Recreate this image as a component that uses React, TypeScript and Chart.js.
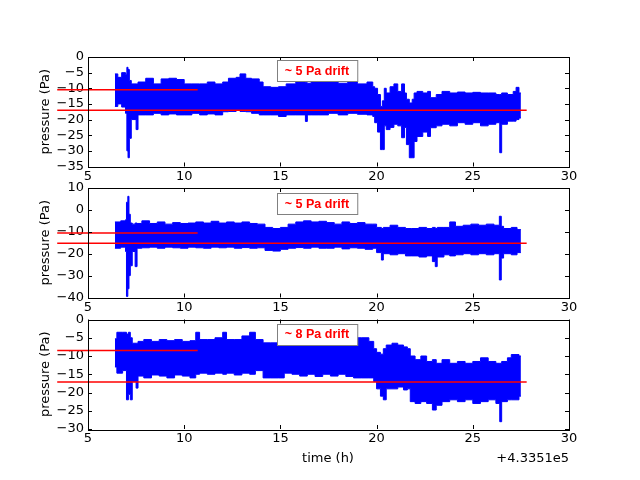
import { useEffect, useRef } from "react";
import { Chart, registerables, Plugin } from "chart.js";

Chart.register(...registerables);

// time in hours (offset +4.3351e5), pressure envelopes in Pa
const topTime = [6.4, 6.55, 6.75, 6.95, 7.02, 7.08, 7.15, 7.25, 7.5, 7.6, 8.0, 8.4, 8.8, 9.2, 9.6, 10.0, 10.4, 10.8, 11.2, 11.6, 12.0, 12.3, 12.7, 12.9, 13.2, 13.5, 13.9, 14.1, 14.5, 14.9, 15.3, 15.8, 16.3, 16.4, 16.6, 17.0, 17.5, 18.0, 18.5, 19.0, 19.5, 19.8, 19.9, 20.05, 20.2, 20.3, 20.4, 20.5, 20.7, 20.9, 21.1, 21.3, 21.45, 21.55, 21.7, 21.85, 21.95, 22.1, 22.4, 22.65, 22.8, 23.1, 23.4, 23.8, 24.2, 24.6, 25.0, 25.4, 25.8, 26.2, 26.4, 26.5, 26.8, 27.1, 27.25, 27.4, 27.5];
const topHigh = [-5.4, -6.5, -5.0, -5.5, -3.3, -4.0, -7.5, -8.6, -8.6, -8.0, -6.8, -8.6, -7.0, -6.8, -7.2, -8.6, -8.6, -8.6, -8.0, -8.6, -8.0, -6.8, -6.5, -5.4, -6.8, -7.0, -8.0, -9.5, -9.7, -9.5, -8.6, -8.0, -8.2, -8.4, -8.0, -7.5, -8.0, -8.4, -8.0, -8.6, -8.0, -9.5, -10.0, -12.0, -15.8, -14.0, -10.0, -11.5, -9.5, -8.6, -11.0, -8.6, -11.5, -13.5, -14.7, -13.5, -11.5, -11.0, -11.5, -11.0, -13.0, -12.0, -11.0, -11.5, -11.2, -11.5, -11.3, -11.5, -11.5, -12.0, -12.0, -11.5, -12.0, -11.0, -9.7, -11.5, -11.5];
const topLow = [-15.8, -15.0, -16.0, -18.0, -30.0, -32.2, -26.0, -20.0, -23.2, -18.5, -18.5, -18.0, -18.5, -18.2, -18.5, -18.5, -18.0, -18.5, -18.2, -18.5, -17.5, -17.4, -17.0, -17.4, -17.5, -18.0, -18.5, -18.5, -18.5, -19.0, -18.5, -18.5, -20.6, -18.5, -18.5, -18.5, -18.0, -18.5, -18.0, -18.3, -18.5, -19.0, -21.0, -24.0, -29.6, -29.6, -22.0, -23.2, -22.5, -21.5, -22.0, -25.8, -22.5, -28.0, -32.2, -32.2, -27.0, -25.4, -24.0, -25.4, -22.6, -22.0, -21.5, -22.0, -21.0, -21.5, -21.0, -22.0, -21.5, -21.0, -30.6, -21.5, -20.5, -20.5, -20.0, -19.5, -19.5];

const midTime = [6.4, 6.7, 6.95, 7.0, 7.07, 7.13, 7.2, 7.3, 7.45, 7.55, 7.8, 8.2, 8.6, 9.0, 9.4, 9.8, 10.2, 10.6, 11.0, 11.4, 11.8, 12.2, 12.6, 13.0, 13.4, 13.8, 14.2, 14.6, 15.0, 15.4, 15.8, 16.2, 16.6, 17.0, 17.4, 17.8, 18.2, 18.6, 19.0, 19.4, 19.8, 20.0, 20.25, 20.35, 20.7, 21.1, 21.5, 21.8, 22.2, 22.6, 22.9, 23.05, 23.15, 23.5, 23.8, 24.1, 24.5, 24.9, 25.3, 25.7, 26.1, 26.38, 26.48, 26.6, 27.0, 27.3, 27.5];
const midHigh = [-5.5, -5.0, -4.5, 3.5, 6.2, -2.0, -6.0, -6.5, -6.0, -6.2, -5.0, -6.2, -5.5, -6.5, -5.8, -6.2, -6.0, -5.5, -6.0, -5.2, -6.0, -5.5, -6.0, -5.5, -6.2, -6.5, -8.0, -8.5, -8.0, -6.5, -5.5, -5.0, -5.5, -5.2, -5.8, -6.5, -5.5, -6.2, -5.8, -6.5, -6.5, -8.0, -8.5, -8.0, -7.0, -8.0, -8.5, -8.5, -8.0, -8.5, -8.0, -8.5, -8.0, -8.0, -5.5, -7.5, -7.0, -6.5, -7.0, -6.5, -7.0, -2.9, -7.5, -8.5, -8.0, -9.0, -9.0];
const midLow = [-17.5, -17.0, -19.0, -39.5, -36.0, -30.0, -25.5, -19.0, -25.9, -17.5, -17.3, -17.0, -17.5, -17.0, -17.3, -17.5, -17.0, -17.3, -17.5, -17.0, -17.3, -17.0, -17.5, -17.2, -17.5, -17.3, -18.5, -18.8, -18.0, -17.5, -17.2, -17.5, -17.0, -17.5, -17.5, -17.0, -17.8, -17.3, -17.5, -18.0, -17.5, -19.5, -22.9, -20.0, -20.5, -20.0, -21.0, -21.0, -21.5, -21.0, -23.6, -25.9, -21.5, -20.5, -21.0, -20.5, -20.0, -20.5, -20.0, -20.5, -20.0, -32.0, -22.0, -20.0, -20.5, -19.5, -19.5];

const lowTime = [6.4, 6.5, 6.8, 7.0, 7.1, 7.2, 7.3, 7.5, 7.6, 7.9, 8.3, 8.7, 9.1, 9.5, 9.9, 10.3, 10.6, 10.8, 11.2, 11.6, 12.0, 12.2, 12.6, 13.0, 13.4, 13.7, 14.1, 14.5, 14.9, 15.2, 15.6, 16.0, 16.4, 16.8, 17.2, 17.6, 18.0, 18.4, 18.8, 19.2, 19.6, 19.85, 20.0, 20.2, 20.35, 20.5, 20.8, 21.1, 21.4, 21.6, 21.75, 22.0, 22.3, 22.6, 22.9, 23.1, 23.4, 23.8, 24.2, 24.6, 25.0, 25.4, 25.8, 26.2, 26.4, 26.5, 26.8, 27.0, 27.4, 27.5];
const lowHigh = [-5.3, -3.5, -3.5, -4.0, -3.5, -5.0, -6.5, -6.5, -6.0, -5.5, -6.0, -5.5, -5.8, -5.5, -6.0, -5.8, -3.5, -5.5, -5.5, -5.0, -3.5, -5.5, -5.5, -4.5, -3.5, -5.5, -6.4, -6.4, -6.0, -5.5, -5.5, -5.0, -5.5, -5.0, -5.5, -5.5, -5.0, -5.5, -5.0, -5.0, -6.0, -8.0, -9.0, -9.5, -8.0, -7.0, -6.5, -7.0, -7.5, -8.0, -10.0, -11.0, -10.0, -11.5, -11.0, -12.0, -11.0, -12.0, -11.5, -12.0, -11.5, -10.5, -11.5, -12.0, -12.0, -11.5, -10.5, -9.6, -10.0, -10.0];
const lowLow = [-13.0, -14.7, -14.0, -22.0, -20.5, -22.0, -17.0, -18.8, -15.5, -16.0, -15.2, -15.5, -16.0, -15.2, -15.5, -16.0, -15.0, -14.7, -15.0, -14.7, -15.0, -14.7, -15.2, -14.7, -15.0, -14.0, -16.0, -16.0, -16.0, -14.7, -15.0, -15.5, -15.0, -15.6, -15.0, -15.5, -15.0, -15.6, -16.0, -16.0, -16.0, -17.0, -19.0, -21.0, -22.0, -19.0, -19.0, -18.5, -19.3, -19.0, -22.5, -23.0, -22.5, -23.0, -24.8, -23.5, -22.5, -22.0, -22.5, -22.0, -23.0, -22.5, -22.0, -23.0, -28.0, -22.5, -22.0, -22.0, -21.0, -21.0];

// red reference levels: short one to ~10.7 h, long one to ~27.8 h
const lineStart = 3.4;
const shortEnd = 10.7;
const longEnd = 27.8;
const topLevels = [-10.5, -17.0];
const midLevels = [-10.5, -15.2];
const lowLevels = [-8.5, -17.1];

const notes = ["~ 5 Pa drift", "~ 5 Pa drift", "~ 8 Pa drift"];
const noteTime = 16.9;
const noteLevels = [-4.4, 2.8, -4.1];

const tickFont = { family: "DejaVu Sans", size: 13 };

const framePlugin: Plugin = {
  id: "frame",
  afterDraw(chart) {
    const { ctx, chartArea: a, scales } = chart;
    ctx.save();
    ctx.strokeStyle = "#000";
    ctx.lineWidth = 1;
    ctx.beginPath();
    for (const t of scales.x.ticks) {
      const px = Math.round(scales.x.getPixelForValue(t.value)) + 0.5;
      ctx.moveTo(px, a.bottom);
      ctx.lineTo(px, a.bottom - 4);
      ctx.moveTo(px, a.top);
      ctx.lineTo(px, a.top + 4);
    }
    for (const t of scales.y.ticks) {
      const py = Math.round(scales.y.getPixelForValue(t.value)) + 0.5;
      ctx.moveTo(a.left, py);
      ctx.lineTo(a.left + 4, py);
      ctx.moveTo(a.right, py);
      ctx.lineTo(a.right - 4, py);
    }
    ctx.stroke();
    ctx.strokeRect(Math.round(a.left) + 0.5, Math.round(a.top) + 0.5, Math.round(a.right - a.left), Math.round(a.bottom - a.top));
    ctx.restore();
  },
};

type Props = {
  time: number[];
  high: number[];
  low: number[];
  levels: number[];
  yMin: number;
  yMax: number;
  yStep: number;
  note: string;
  noteLevel: number;
  plotTop: number;
};

const Panel = ({ time, high, low, levels, yMin, yMax, yStep, note, noteLevel, plotTop }: Props) => {
  const chartRef = useRef<Chart | null>(null);
  const chartCanvas = useRef<HTMLCanvasElement | null>(null);

  useEffect(() => {
    if (chartRef.current) {
      chartRef.current.destroy();
    }
    const plotBottom = plotTop + 109.5;

    const notePlugin: Plugin = {
      id: "note",
      afterDraw(chart) {
        const { ctx, scales } = chart;
        const cx = scales.x.getPixelForValue(noteTime);
        const cy = scales.y.getPixelForValue(noteLevel);
        ctx.save();
        ctx.font = "bold 12.5px 'Liberation Sans'";
        const w = ctx.measureText(note).width + 16;
        const h = 21;
        const bx = Math.round(cx - w / 2) + 0.5;
        const by = Math.round(cy - h / 2) + 0.5;
        ctx.fillStyle = "#fff";
        ctx.fillRect(bx, by, w, h);
        ctx.strokeStyle = "#808080";
        ctx.lineWidth = 1;
        ctx.strokeRect(bx, by, w, h);
        ctx.fillStyle = "#ff0000";
        ctx.textAlign = "center";
        ctx.textBaseline = "middle";
        ctx.fillText(note, cx, cy + 0.5);
        ctx.restore();
      },
    };

    const context = chartCanvas.current?.getContext("2d");
    if (context) {
      chartRef.current = new Chart(context, {
        type: "line",
        data: {
          datasets: [
            {
              data: [
                { x: lineStart, y: levels[0] },
                { x: shortEnd, y: levels[0] },
              ],
              borderColor: "#ff0000",
              borderWidth: 1.5,
              pointRadius: 0,
              clip: false,
            },
            {
              data: [
                { x: lineStart, y: levels[1] },
                { x: longEnd, y: levels[1] },
              ],
              borderColor: "#ff0000",
              borderWidth: 1.5,
              pointRadius: 0,
              clip: false,
            },
            {
              data: time.map((t, i) => ({ x: t, y: low[i] })),
              borderColor: "#0000ff",
              borderWidth: 1,
              pointRadius: 0,
              stepped: true,
              fill: false,
            },
            {
              data: time.map((t, i) => ({ x: t, y: high[i] })),
              borderColor: "#0000ff",
              backgroundColor: "#0000ff",
              borderWidth: 1,
              pointRadius: 0,
              stepped: true,
              fill: "-1",
            },
          ],
        },
        options: {
          animation: false,
          responsive: false,
          events: [],
          layout: { padding: { top: plotTop, right: 71, left: 0, bottom: 0 } },
          plugins: {
            legend: { display: false },
            tooltip: { enabled: false },
          },
          scales: {
            x: {
              type: "linear",
              min: 5,
              max: 30,
              ticks: { stepSize: 5, color: "#000", font: tickFont, padding: 2, maxRotation: 0, autoSkip: false },
              grid: { display: false, drawTicks: false },
              border: { display: false },
              afterFit: (s: any) => {
                s.height = 480 - plotBottom;
              },
            },
            y: {
              type: "linear",
              min: yMin,
              max: yMax,
              ticks: {
                stepSize: yStep,
                autoSkip: false,
                color: "#000",
                font: tickFont,
                padding: 4,
                callback: (v: any) => String(v).replace("-", "\u2212"),
              },
              grid: { display: false, drawTicks: false },
              border: { display: false },
              title: {
                display: true,
                text: "pressure (Pa)",
                color: "#000",
                font: tickFont,
                padding: { top: 38, bottom: 0 },
              },
              afterFit: (s: any) => {
                s.width = 88;
              },
            },
          },
        },
        plugins: [framePlugin, notePlugin],
      });
    }

    return () => {
      if (chartRef.current) {
        chartRef.current.destroy();
        chartRef.current = null;
      }
    };
  }, [time, high, low, levels, yMin, yMax, yStep, note, noteLevel, plotTop]);

  return (
    <canvas
      ref={chartCanvas}
      width={640}
      height={480}
      style={{ position: "absolute", left: 0, top: 0, width: 640, height: 480 }}
    ></canvas>
  );
};

const App = () => {
  const textStyle = {
    position: "absolute" as const,
    top: 450,
    fontFamily: "DejaVu Sans",
    fontSize: 13,
    lineHeight: "15px",
    color: "#000",
    whiteSpace: "nowrap" as const,
  };
  return (
    <div style={{ position: "absolute", left: 0, top: 0, width: 640, height: 480, background: "#fff" }}>
      <Panel time={topTime} high={topHigh} low={topLow} levels={topLevels} yMin={-35} yMax={0} yStep={5} note={notes[0]} noteLevel={noteLevels[0]} plotTop={57} />
      <Panel time={midTime} high={midHigh} low={midLow} levels={midLevels} yMin={-40} yMax={10} yStep={10} note={notes[1]} noteLevel={noteLevels[1]} plotTop={188} />
      <Panel time={lowTime} high={lowHigh} low={lowLow} levels={lowLevels} yMin={-30} yMax={0} yStep={5} note={notes[2]} noteLevel={noteLevels[2]} plotTop={319.5} />
      <div style={{ ...textStyle, left: 328, transform: "translateX(-50%)" }}>time (h)</div>
      <div style={{ ...textStyle, right: 71 }}>+4.3351e5</div>
    </div>
  );
};

export default App;
